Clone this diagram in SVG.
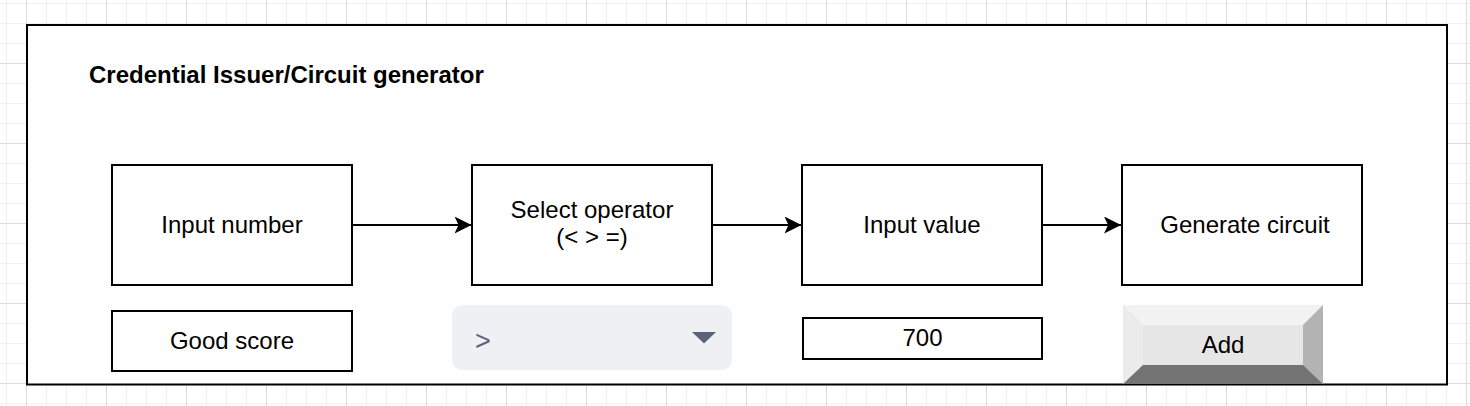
<svg xmlns="http://www.w3.org/2000/svg" width="1470" height="406" viewBox="0 0 1470 406">
  <defs>
    <pattern id="gridMinor" x="6" y="3" width="20" height="20" patternUnits="userSpaceOnUse">
      <path d="M0.5,0 V20 M0,0.5 H20" stroke="#f0f0f0" stroke-width="1" fill="none"/>
    </pattern>
    <pattern id="gridMajor" x="26" y="63" width="80" height="80" patternUnits="userSpaceOnUse">
      <path d="M0.5,0 V80 M0,0.5 H80" stroke="#dcdcdc" stroke-width="1" fill="none"/>
    </pattern>
    <marker id="arrow" markerWidth="17" markerHeight="17" viewBox="0 0 17 17" refX="17" refY="8.5" orient="auto" markerUnits="userSpaceOnUse">
      <path d="M17,8.5 L0,0 L4,8.5 L0,17 Z" fill="#000"/>
    </marker>
    <style>
      .box { fill: #fff; stroke: #000; stroke-width: 2; }
      .lbl { font-family: "Liberation Sans", Arial, sans-serif; font-size: 24px; fill: #000; text-anchor: middle; }
      .edge { stroke: #000; stroke-width: 2; fill: none; }
    </style>
  </defs>

  <rect x="0" y="0" width="1470" height="406" fill="#fff"/>
  <rect x="0" y="0" width="1470" height="406" fill="url(#gridMinor)"/>
  <rect x="0" y="0" width="1470" height="406" fill="url(#gridMajor)"/>

  <g id="container">
    <rect x="27" y="25" width="1420" height="359.5" class="box"/>
    <text x="89" y="82.5" font-family="Liberation Sans, Arial, sans-serif" font-size="24" font-weight="bold" fill="#000">Credential Issuer/Circuit generator</text>
  </g>

  <g id="connectors">
    <line x1="352" y1="225" x2="471.5" y2="225" class="edge" marker-end="url(#arrow)"/>
    <line x1="712" y1="225" x2="801.5" y2="225" class="edge" marker-end="url(#arrow)"/>
    <line x1="1042" y1="225" x2="1121" y2="225" class="edge" marker-end="url(#arrow)"/>
  </g>

  <g id="input-number">
    <rect x="112" y="165" width="240" height="120" class="box"/>
    <text x="232" y="233" class="lbl">Input number</text>
  </g>

  <g id="select-operator">
    <rect x="472" y="165" width="240" height="120" class="box"/>
    <text x="592" y="217.5" class="lbl">Select operator</text>
    <text x="592" y="245" class="lbl">(&lt; &gt; =)</text>
  </g>

  <g id="input-value">
    <rect x="802" y="165" width="240" height="120" class="box"/>
    <text x="922" y="233" class="lbl">Input value</text>
  </g>

  <g id="generate-circuit">
    <rect x="1122" y="165" width="240" height="120" class="box"/>
    <text x="1245" y="233" class="lbl">Generate circuit</text>
  </g>

  <g id="good-score">
    <rect x="112" y="311" width="240" height="60" class="box"/>
    <text x="232" y="349" class="lbl">Good score</text>
  </g>

  <g id="operator-dropdown">
    <rect x="452" y="305" width="280" height="65" rx="10" ry="10" fill="#eff0f3"/>
    <text x="475" y="349.5" font-family="Liberation Sans, Arial, sans-serif" font-size="27" fill="#5a6479">&gt;</text>
    <path d="M692,332 L716,332 L704,343.5 Z" fill="#5a6479"/>
  </g>

  <g id="value-700">
    <rect x="803" y="318" width="239" height="41" class="box"/>
    <text x="922.5" y="346" class="lbl">700</text>
  </g>

  <g id="add-button">
    <rect x="1123" y="305" width="200" height="79" fill="#e6e6e6"/>
    <path d="M1123,305 L1323,305 L1303,325 L1143,325 Z" fill="#f2f2f2"/>
    <path d="M1123,305 L1143,325 L1143,365 L1123,384 Z" fill="#ebebeb"/>
    <path d="M1323,305 L1323,384 L1303,365 L1303,325 Z" fill="#b3b3b3"/>
    <path d="M1123,384 L1143,365 L1303,365 L1323,384 Z" fill="#737373"/>
    <text x="1223" y="353" class="lbl">Add</text>
  </g>
</svg>
